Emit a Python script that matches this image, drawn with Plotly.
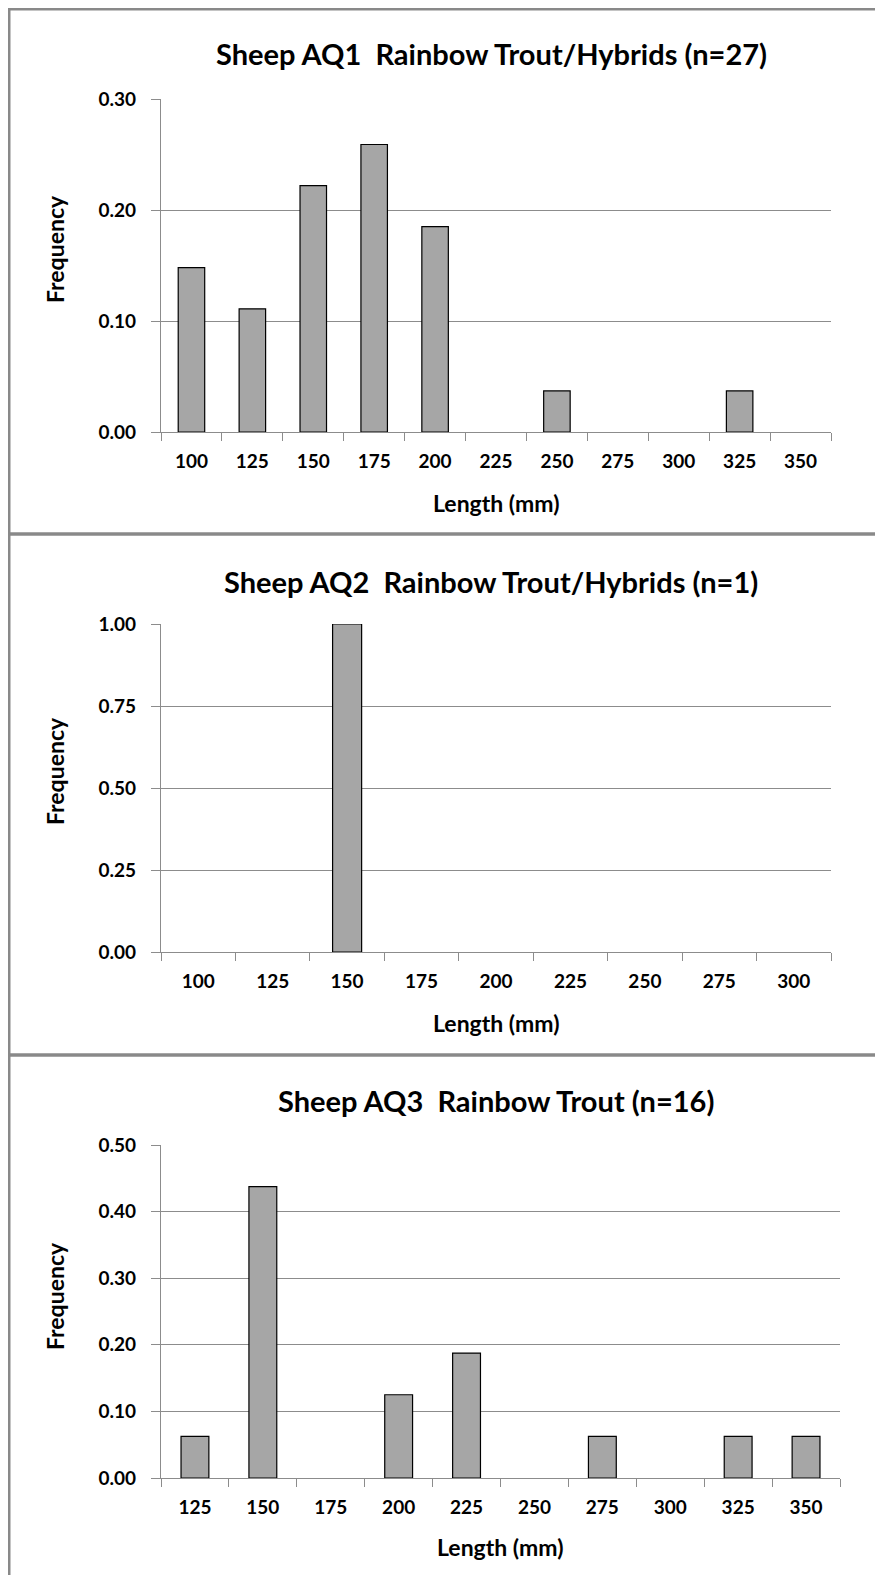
import plotly.graph_objects as go

# panel 1: Sheep AQ1 Rainbow Trout/Hybrids (n=27)
len_aq1 = ["100", "125", "150", "175", "200", "225", "250", "275", "300", "325", "350"]
freq_aq1 = [0.148, 0.111, 0.222, 0.259, 0.185, 0.0, 0.037, 0.0, 0.0, 0.037, 0.0]

# panel 2: Sheep AQ2 Rainbow Trout/Hybrids (n=1)
len_aq2 = ["100", "125", "150", "175", "200", "225", "250", "275", "300"]
freq_aq2 = [0.0, 0.0, 1.0, 0.0, 0.0, 0.0, 0.0, 0.0, 0.0]

# panel 3: Sheep AQ3 Rainbow Trout (n=16)
len_aq3 = ["125", "150", "175", "200", "225", "250", "275", "300", "325", "350"]
freq_aq3 = [0.0625, 0.4375, 0.0, 0.125, 0.1875, 0.0, 0.0625, 0.0, 0.0625, 0.0625]

titles = ["Sheep AQ1  Rainbow Trout/Hybrids (n=27)",
          "Sheep AQ2  Rainbow Trout/Hybrids (n=1)",
          "Sheep AQ3  Rainbow Trout (n=16)"]

W, H = 883, 1575
OFF = 8  # page body margin shifts the figure by this much
FONT = "Lato, Noto Sans, sans-serif"
GRID = "#8C8C8C"
BAR = "#A6A6A6"


def px(x):
    return (x - OFF) / W


def py(y):
    return 1 - (y - OFF) / H


# plot boxes in screen pixels: left, right, top, bottom
boxes = [(161, 831, 99, 432), (161, 831, 624, 952), (161, 840, 1145, 1478)]
yranges = [(0, 0.30, 0.10), (0, 1.0, 0.25), (0, 0.50, 0.10)]
widths = [0.435, 0.39, 0.41]
title_y = [53, 581, 1100]
xtitle_y = [503, 1023, 1547]
ylabel_y = [249, 771, 1296]

fig = go.Figure()
series = [(len_aq1, freq_aq1), (len_aq2, freq_aq2), (len_aq3, freq_aq3)]

for i, (cats, vals) in enumerate(series):
    n = "" if i == 0 else str(i + 1)
    fig.add_trace(go.Bar(
        x=cats, y=[v if v > 0 else None for v in vals],
        xaxis="x" + n, yaxis="y" + n,
        width=widths[i],
        marker=dict(color=BAR, line=dict(color="#000000", width=1.2)),
        showlegend=False, hoverinfo="skip",
    ))
    l, r, t, b = boxes[i]
    lo, hi, step = yranges[i]
    fig.layout["xaxis" + n] = dict(
        domain=[px(l), px(r)], anchor="y" + n, type="category",
        categoryorder="array", categoryarray=cats,
        tickson="boundaries", ticks="outside", ticklen=8, tickcolor=GRID,
        showline=True, linecolor=GRID, linewidth=1.3, showgrid=False,
        tickfont=dict(family=FONT, size=19, color="#000000", weight="bold"),
        ticklabelstandoff=12, automargin=False, fixedrange=True,
    )
    fig.layout["yaxis" + n] = dict(
        domain=[py(b), py(t)], anchor="x" + n, range=[lo, hi], dtick=step,
        tickformat=".2f", ticks="outside", ticklen=9, tickcolor=GRID,
        showline=True, linecolor=GRID, linewidth=1.3,
        showgrid=True, gridcolor=GRID, gridwidth=1.2, zeroline=False,
        tickfont=dict(family=FONT, size=19, color="#000000", weight="bold"),
        ticklabelstandoff=11, automargin=False, fixedrange=True,
    )
    fig.add_annotation(text="<b>" + titles[i] + "</b>", x=px((l + r) / 2 - 5),
                       y=py(title_y[i]), xref="paper", yref="paper",
                       xanchor="center", yanchor="middle", showarrow=False,
                       font=dict(family=FONT, size=29, color="#000000"))
    fig.add_annotation(text="<b>Length (mm)</b>", x=px((l + r) / 2), y=py(xtitle_y[i]),
                       xref="paper", yref="paper", xanchor="center", yanchor="middle",
                       showarrow=False, font=dict(family=FONT, size=23, color="#000000"))
    fig.add_annotation(text="<b>Frequency</b>", x=px(55), y=py(ylabel_y[i]),
                       xref="paper", yref="paper", xanchor="center", yanchor="middle",
                       showarrow=False, textangle=-90,
                       font=dict(family=FONT, size=23, color="#000000"))

# chart area frames
for top, bot in [(9, 534), (534, 1055), (1055, 1600)]:
    fig.add_shape(type="rect", xref="paper", yref="paper",
                  x0=px(9), x1=px(W + 20), y0=py(bot), y1=py(top),
                  line=dict(color="#898989", width=3), layer="above")

fig.update_layout(
    width=W, height=H, margin=dict(l=0, r=0, t=0, b=0, autoexpand=False),
    paper_bgcolor="white", plot_bgcolor="white",
    font=dict(family=FONT, color="#000000"),
)

fig.write_html("out.html")
